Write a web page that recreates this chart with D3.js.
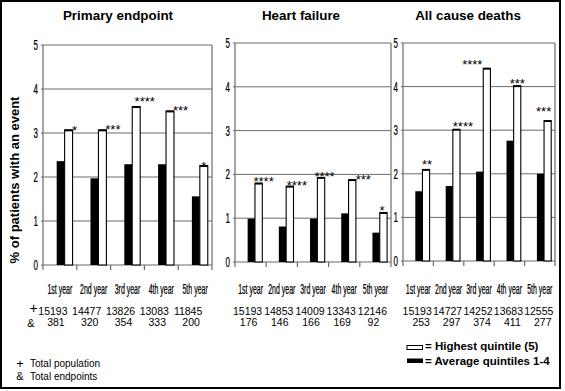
<!DOCTYPE html>
<html><head><meta charset="utf-8">
<script src="https://cdn.jsdelivr.net/npm/d3@7"></script>
<style>body{margin:0;background:#fff}svg{display:block}</style>
</head><body>
<svg id="c" width="565" height="391"></svg>
<script>
// ---------- data ----------
const categories = ["1st year", "2nd year", "3rd year", "4th year", "5th year"];
const panelTitles = ["Primary endpoint", "Heart failure", "All cause deaths"];
const yTicks = [0, 1, 2, 3, 4, 5];

const avgPrimary  = [2.36, 1.97, 2.29, 2.29, 1.56];
const highPrimary = [3.07, 3.07, 3.60, 3.50, 2.26];
const avgHF       = [0.99, 0.81, 0.99, 1.11, 0.67];
const highHF      = [1.80, 1.73, 1.93, 1.88, 1.13];
const avgDeath    = [1.60, 1.72, 2.05, 2.76, 2.00];
const highDeath   = [2.10, 3.02, 4.42, 4.02, 3.22];

const sigPrimary = ["*", "***", "****", "***", "*"];
const sigHF      = ["****", "****", "****", "***", "*"];
const sigDeath   = ["**", "****", "****", "***", "***"];

const popPrimary = [15193, 14477, 13826, 13083, 11845];
const endPrimary = [381, 320, 354, 333, 200];
const popHF      = [15193, 14853, 14009, 13343, 12146];
const endHF      = [176, 146, 166, 169, 92];
const popDeath   = [15193, 14727, 14252, 13683, 12555];
const endDeath   = [253, 297, 374, 411, 277];

const legendLabels = ["= Highest quintile (5)", "= Average quintiles 1-4"];
const footLabels = [["+", "Total population"], ["&", "Total endpoints"]];

// ---------- layout ----------
const panels = [
  {title: panelTitles[0], avg: avgPrimary, high: highPrimary, sig: sigPrimary, pop: popPrimary, end: endPrimary,
   x0: 43, x1: 212, yb: 265, yt: 45, tx: 118, popShift: -7, endShift: -4,
   sdx: [6, 10.5, 8.5, 10.5, 0], sdy: [2, 3, 8, 4, 2]},
  {title: panelTitles[1], avg: avgHF, high: highHF, sig: sigHF, pop: popHF, end: endHF,
   x0: 235, x1: 391, yb: 262, yt: 43, tx: 301, popShift: -3, endShift: -2,
   sdx: [5, 7, 3.5, 11, -1.5], sdy: [5, 4, 4, 3, 5]},
  {title: panelTitles[2], avg: avgDeath, high: highDeath, sig: sigDeath, pop: popDeath, end: endDeath,
   x0: 403, x1: 555, yb: 261, yt: 43, tx: 468, popShift: -1, endShift: 3,
   sdx: [1, 6.5, -14.5, 0, -4], sdy: [8, 6, 7, 5, 12]}
];

const svg = d3.select("#c");
const SANS = "'Liberation Sans', Arial, sans-serif";
const grid = "#6b6b6b";

function narrow(g, x, y, txt, size, sx, anchor) {
  return g.append("text")
    .attr("transform", `translate(${x},${y}) scale(${sx},1)`)
    .attr("text-anchor", anchor || "middle")
    .attr("font-family", SANS).attr("font-size", size)
    .attr("fill", "#000").attr("stroke", "#000").attr("stroke-width", 0.25)
    .text(txt);
}

// outer frame
svg.append("rect").attr("x", 1).attr("y", 1).attr("width", 559).attr("height", 387)
  .attr("fill", "none").attr("stroke", "#000").attr("stroke-width", 2);

panels.forEach(p => {
  const g = svg.append("g");
  const x = d3.scaleBand().domain(categories).range([p.x0, p.x1]).paddingInner(0).paddingOuter(0);
  const y = d3.scaleLinear().domain([0, 5]).range([p.yb, p.yt]);
  const bw = x.bandwidth();
  const barW = 0.235 * bw;
  const bStart = c => x(c) + 0.405 * bw;

  // gridlines
  g.selectAll(".grid").data(yTicks.filter(t => t > 0)).join("line")
    .attr("x1", p.x0 - 2).attr("x2", p.x1).attr("y1", d => y(d)).attr("y2", d => y(d))
    .attr("stroke", grid).attr("stroke-width", 1);
  // left axis
  g.append("line").attr("x1", p.x0).attr("x2", p.x0).attr("y1", y(5)).attr("y2", y(0) + 5)
    .attr("stroke", grid).attr("stroke-width", 1.2);
  // right border
  g.append("line").attr("x1", p.x1).attr("x2", p.x1).attr("y1", y(5)).attr("y2", y(0) + 5)
    .attr("stroke", grid).attr("stroke-width", 1.2);
  // baseline
  g.append("line").attr("x1", p.x0 - 2).attr("x2", p.x1).attr("y1", y(0)).attr("y2", y(0))
    .attr("stroke", grid).attr("stroke-width", 1.2);
  // category ticks
  g.selectAll(".ct").data(categories.slice(1)).join("line")
    .attr("x1", d => x(d)).attr("x2", d => x(d)).attr("y1", y(0)).attr("y2", y(0) + 5)
    .attr("stroke", grid).attr("stroke-width", 1.2);

  // y tick labels
  yTicks.forEach(t => narrow(g, p.x0 - 5, y(t) + 5, String(t), 14, 0.57, "end"));

  // bars
  g.selectAll(".avg").data(categories).join("rect")
    .attr("x", d => bStart(d)).attr("width", barW)
    .attr("y", (d, i) => y(p.avg[i])).attr("height", (d, i) => y(0) - y(p.avg[i]))
    .attr("fill", "#000");
  g.selectAll(".high").data(categories).join("rect")
    .attr("x", d => bStart(d) + barW).attr("width", barW)
    .attr("y", (d, i) => y(p.high[i])).attr("height", (d, i) => y(0) - y(p.high[i]))
    .attr("fill", "#fff").attr("stroke", "#000").attr("stroke-width", 1.1);
  // thicker top cap
  g.selectAll(".cap").data(categories).join("line")
    .attr("x1", d => bStart(d) + barW).attr("x2", d => bStart(d) + 2 * barW)
    .attr("y1", (d, i) => y(p.high[i]) + 0.5).attr("y2", (d, i) => y(p.high[i]) + 0.5)
    .attr("stroke", "#000").attr("stroke-width", 1.8);

  // significance stars
  categories.forEach((c, i) => {
    const cx = bStart(c) + 1.5 * barW + p.sdx[i];
    const cy = y(p.high[i]) - p.sdy[i];
    g.append("text").attr("x", cx).attr("y", cy + 7.5).attr("text-anchor", "middle")
      .attr("font-family", SANS).attr("font-size", 13).attr("fill", "#000").text(p.sig[i]);
  });

  // category labels
  categories.forEach(c => narrow(g, x(c) + bw / 2, 294, c, 14, 0.5, "middle"));

  // totals rows
  categories.forEach((c, i) => {
    const cx = x(c) + bw / 2;
    g.append("text").attr("x", cx + p.popShift).attr("y", 314.5).attr("text-anchor", "middle")
      .attr("font-family", SANS).attr("font-size", 10.5).attr("fill", "#000").text(p.pop[i]);
    g.append("text").attr("x", cx + p.endShift).attr("y", 325.5).attr("text-anchor", "middle")
      .attr("font-family", SANS).attr("font-size", 10.5).attr("fill", "#000").text(p.end[i]);
  });

  // title
  g.append("text").attr("x", p.tx).attr("y", 20).attr("text-anchor", "middle")
    .attr("font-family", SANS).attr("font-size", 13.4).attr("font-weight", "bold")
    .attr("fill", "#000").text(p.title);
});

// row markers
svg.append("text").attr("x", 33.5).attr("y", 313).attr("text-anchor", "middle")
  .attr("font-family", SANS).attr("font-size", 14).attr("fill", "#000").text("+");
svg.append("text").attr("x", 31).attr("y", 327).attr("text-anchor", "middle")
  .attr("font-family", SANS).attr("font-size", 11).attr("fill", "#000").text("&");

// y axis title
svg.append("text").attr("transform", "translate(18.5,180) rotate(-90)")
  .attr("text-anchor", "middle").attr("font-family", SANS).attr("font-size", 13)
  .attr("font-weight", "bold").attr("fill", "#000").text("% of patients with an event");

// foot legend (left)
footLabels.forEach((f, i) => {
  const yy = 367 + i * 13;
  svg.append("text").attr("x", 20).attr("y", yy + (i === 0 ? 1 : 0)).attr("text-anchor", "middle")
    .attr("font-family", SANS).attr("font-size", i === 0 ? 13 : 11).attr("fill", "#000").text(f[0]);
  svg.append("text").attr("x", 30).attr("y", yy).attr("font-family", SANS)
    .attr("font-size", 10).attr("fill", "#000").text(f[1]);
});

// series legend (right)
svg.append("rect").attr("x", 407).attr("y", 345.5).attr("width", 15.5).attr("height", 4)
  .attr("fill", "#fff").attr("stroke", "#000").attr("stroke-width", 1);
svg.append("rect").attr("x", 407).attr("y", 358.5).attr("width", 16).attr("height", 4.5)
  .attr("fill", "#000");
legendLabels.forEach((l, i) => {
  svg.append("text").attr("x", 425).attr("y", 350 + i * 14.5).attr("font-family", SANS)
    .attr("font-size", 11.5).attr("font-weight", "bold").attr("fill", "#000").text(l);
});
</script>
</body></html>
